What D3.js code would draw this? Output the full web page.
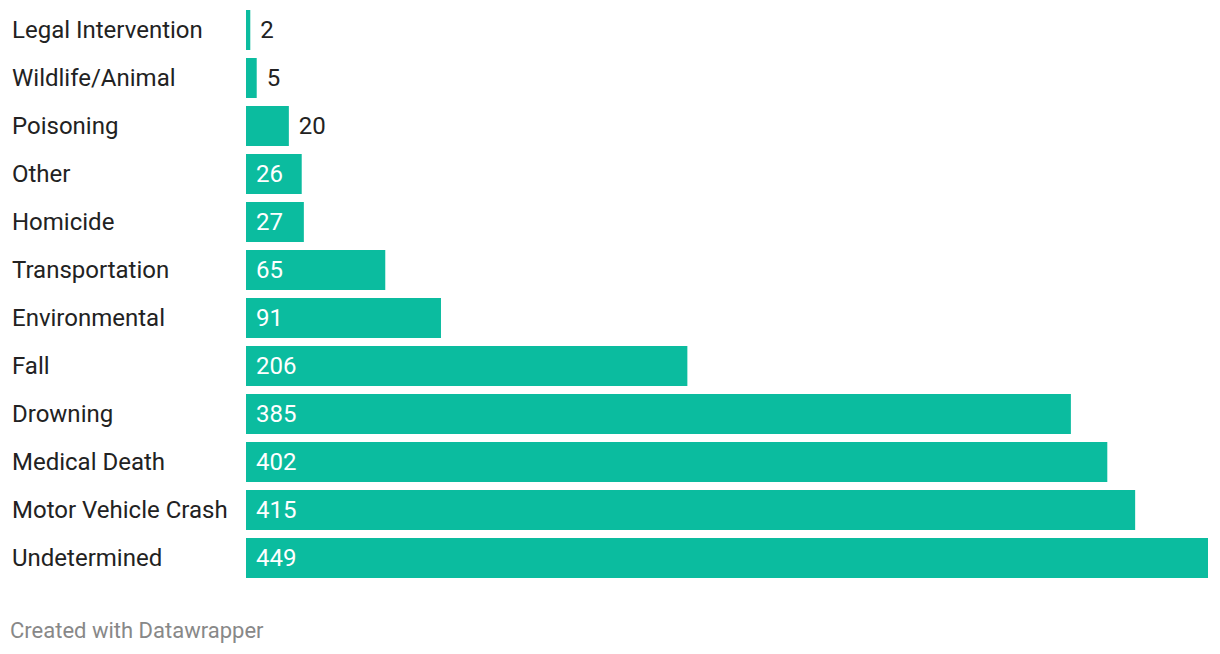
<!DOCTYPE html>
<html>
<head>
<meta charset="utf-8">
<script src="https://cdn.jsdelivr.net/npm/d3@7"></script>
<style>
  body { margin: 0; background: #fff; font-family: Roboto, sans-serif; }
</style>
</head>
<body>
<div id="chart"></div>
<script>
// data
var categories = ["Legal Intervention", "Wildlife/Animal", "Poisoning", "Other", "Homicide",
  "Transportation", "Environmental", "Fall", "Drowning", "Medical Death",
  "Motor Vehicle Crash", "Undetermined"];
var values = [2, 5, 20, 26, 27, 65, 91, 206, 385, 402, 415, 449];

var width = 1220;
var height = 654;
var barColor = "#0bbc9f";

var svg = d3.select("#chart")
  .append("svg")
  .attr("width", width)
  .attr("height", height);

var x = d3.scaleLinear()
  .domain([0, d3.max(values)])
  .range([246, 1208]);

var y = d3.scaleBand()
  .domain(categories)
  .range([10, 578])
  .paddingInner(8 / 48)
  .paddingOuter(0);

var rows = svg.selectAll("g.row")
  .data(categories)
  .enter()
  .append("g")
  .attr("class", "row");

// category labels
rows.append("text")
  .attr("x", 12)
  .attr("y", d => y(d) + y.bandwidth() / 2)
  .attr("dy", "0.35em")
  .attr("font-size", 24)
  .attr("fill", "#222")
  .text(d => d);

rows.append("rect")
  .attr("x", x(0))
  .attr("y", d => y(d))
  .attr("height", y.bandwidth())
  .attr("width", (d, i) => x(values[i]) - x(0))
  .attr("fill", barColor);

// value labels, inside the bar if they fit
rows.append("text")
  .attr("y", d => y(d) + y.bandwidth() / 2)
  .attr("dy", "0.35em")
  .attr("font-size", 24)
  .text((d, i) => values[i])
  .each(function (d, i) {
    var w = this.getComputedTextLength();
    var bw = x(values[i]) - x(0);
    var sel = d3.select(this);
    if (bw >= w + 22) {
      sel.attr("x", x(0) + 10).attr("fill", "#fff");
    } else {
      sel.attr("x", x(values[i]) + 10).attr("fill", "#222");
    }
  });

svg.append("text")
  .attr("x", 10)
  .attr("y", 638)
  .attr("font-size", 22)
  .attr("fill", "#888")
  .text("Created with Datawrapper");
</script>
</body>
</html>
